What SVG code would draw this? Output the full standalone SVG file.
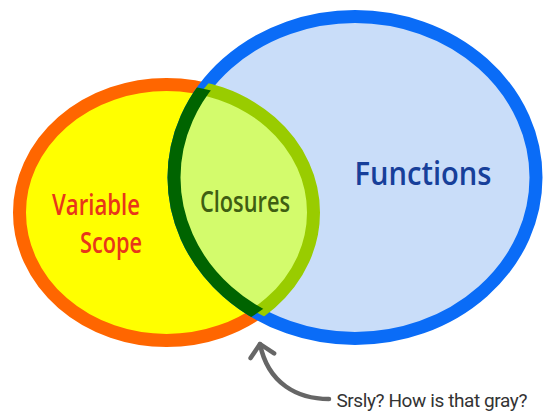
<svg xmlns="http://www.w3.org/2000/svg" width="543" height="417" viewBox="0 0 543 417">
<style>
.lbl{font-family:"Open Sans","Noto Sans","Liberation Sans",sans-serif;font-weight:600}
.note{font-family:Roboto,"Liberation Sans",sans-serif;font-weight:400}
</style>
<defs>
<clipPath id="inBlue"><ellipse cx="355" cy="177.5" rx="181" ry="161"/></clipPath>
<clipPath id="inOrange"><ellipse cx="166.5" cy="212.5" rx="147" ry="128"/></clipPath>
<marker id="ah" viewBox="0 0 30 30" refX="15" refY="15" markerWidth="30" markerHeight="30" markerUnits="userSpaceOnUse" orient="auto"><path d="M3,3 L15,15 L3,27" fill="none" stroke="#666" stroke-width="4.5" stroke-linecap="round" stroke-linejoin="round"/></marker>
</defs>
<rect width="543" height="417" fill="#fff"/>
<g id="variable-scope">
<ellipse cx="166.5" cy="212.5" rx="147" ry="128" fill="#ffff00" stroke="#ff6600" stroke-width="13"/>
</g>
<g id="functions">
<ellipse cx="355" cy="177.5" rx="181" ry="161" fill="#c9ddf9" stroke="#0a6cf7" stroke-width="13"/>
</g>
<g id="closures">
<ellipse cx="166.5" cy="212.5" rx="147" ry="128" fill="#d3fb6c" clip-path="url(#inBlue)"/>
<ellipse cx="166.5" cy="212.5" rx="147" ry="128" fill="none" stroke="#99cc00" stroke-width="13" clip-path="url(#inBlue)"/>
<ellipse cx="355" cy="177.5" rx="181" ry="161" fill="none" stroke="#006400" stroke-width="13" clip-path="url(#inOrange)"/>
</g>
<g id="connectors">
<path d="M329,399 C298,399 268,384 260,344" fill="none" stroke="#666" stroke-width="4.5" stroke-linecap="round" marker-end="url(#ah)"/>
</g>
<g id="labels">
<text class="lbl" x="96" y="215" font-size="29" fill="#e8361a" text-anchor="middle" textLength="88" lengthAdjust="spacingAndGlyphs">Variable</text>
<text class="lbl" x="111" y="253" font-size="29" fill="#e8361a" text-anchor="middle" textLength="62" lengthAdjust="spacingAndGlyphs">Scope</text>
<text class="lbl" x="245" y="212" font-size="29" fill="#3f5e12" text-anchor="middle" textLength="90" lengthAdjust="spacingAndGlyphs">Closures</text>
<text class="lbl" x="423" y="185" font-size="33" fill="#173f9a" text-anchor="middle" textLength="137" lengthAdjust="spacingAndGlyphs">Functions</text>
<text class="note" x="527" y="407" font-size="19" fill="#333" text-anchor="end" letter-spacing="-0.4">Srsly? How is that gray?</text>
</g>
</svg>
